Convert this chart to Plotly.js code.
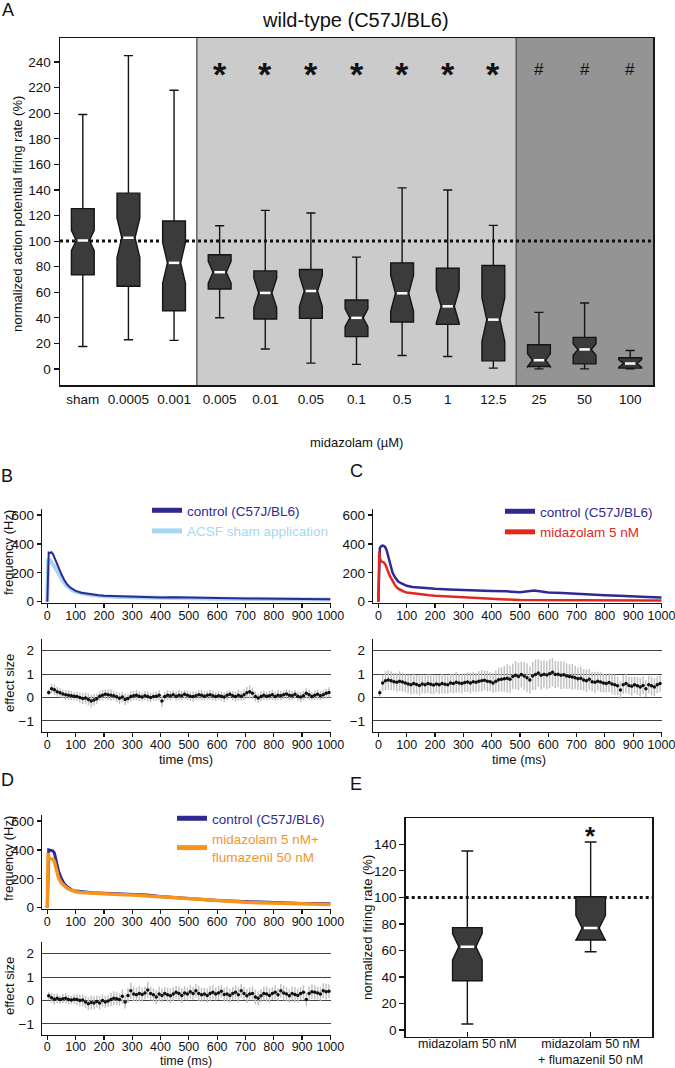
<!DOCTYPE html>
<html><head><meta charset="utf-8">
<script src="https://cdn.plot.ly/plotly-3.0.1.min.js"></script>
<style>html,body{margin:0;padding:0;background:#fff}#chart{width:675px;height:1068px}</style>
</head><body><div id="chart"></div>
<script>
// ---------- Panel A data ----------
const doseLabels = ['sham','0.0005','0.001','0.005','0.01','0.05','0.1','0.5','1','12.5','25','50','100'];
const doseGroup  = ['ctrl','ctrl','ctrl','sig','sig','sig','sig','sig','sig','sig','high','high','high'];
const doseUpper  = [199, 245, 218, 112, 124, 122, 87.5, 141.6, 140, 112.3, 44.3, 51.6, 14.5];
const doseQ3     = [125.4, 137.5, 115.7, 89.3, 76.7, 77.8, 54, 83, 78.8, 80.9, 19, 24.7, 8.8];
const doseMedian = [100.5, 102.6, 83, 75.7, 59.5, 61, 40, 59.2, 49, 38.6, 6.9, 15.3, 4.3];
const doseQ1     = [73.6, 64.7, 45.6, 62.6, 39.1, 39.6, 25.3, 36.7, 34.9, 6.4, 2, 4, 0.7];
const doseLower  = [17.6, 22.9, 22.4, 40.1, 15.6, 4.6, 3.6, 10.6, 9.8, 0.7, 0.1, 0.1, 0.2];
const doseNotch  = [8, 15.5, 16, 8.5, 11.5, 12, 7, 14, 13, 17, 5, 4.5, 3];
const doseMarks  = ['','','','*','*','*','*','*','*','*','#','#','#'];
const refLevel = 100;

// ---------- Panels B, C, D frequency traces ----------
const tFreq = [0, 3, 5, 10, 15, 20, 25, 30, 35, 40, 50, 60, 70, 80, 90, 100, 120, 140, 160, 180, 200, 250, 300, 350, 400, 450, 500, 550, 600, 650, 700, 750, 800, 850, 900, 950, 1000];
const freqCtrlB = [0, 320, 340, 338, 342, 330, 305, 285, 260, 235, 190, 150, 120, 100, 85, 75, 62, 55, 50, 45, 42, 38, 36, 32, 30, 31, 28, 27, 26, 24, 23, 22, 22, 20, 21, 19, 18];
const freqShamB = [0, 295, 290, 285, 275, 262, 245, 228, 210, 192, 160, 130, 108, 90, 78, 68, 57, 52, 47, 42, 38, 33, 30, 28, 26, 25, 24, 22, 21, 20, 20, 19, 18, 17, 17, 16, 15];
const freqCtrlC = [0, 330, 370, 385, 388, 385, 375, 350, 310, 260, 200, 165, 140, 128, 118, 110, 102, 98, 95, 93, 90, 85, 80, 78, 74, 72, 66, 78, 64, 60, 54, 50, 45, 42, 36, 33, 30];
const freqMidaC = [0, 345, 300, 280, 275, 270, 255, 235, 205, 180, 140, 110, 90, 78, 70, 64, 58, 52, 48, 45, 42, 36, 30, 25, 20, 16, 12, 11, 10, 10, 10, 9, 9, 8, 8, 8, 8];
const freqCtrlD = [0, 395, 400, 398, 395, 392, 380, 340, 290, 250, 200, 165, 145, 130, 120, 115, 110, 106, 104, 102, 100, 96, 94, 88, 78, 70, 62, 56, 50, 46, 42, 38, 35, 33, 30, 30, 28];
const freqFlumD = [0, 380, 345, 340, 338, 335, 320, 280, 240, 205, 170, 150, 135, 125, 115, 110, 106, 103, 100, 98, 96, 92, 88, 82, 74, 66, 58, 52, 46, 42, 38, 34, 31, 28, 26, 24, 22];

// ---------- Effect sizes ----------
const tEff = [5,15,25,35,45,55,65,75,85,95,105,115,125,135,145,155,165,175,185,195,205,215,225,235,245,255,265,275,285,295,305,315,325,335,345,355,365,375,385,395,405,415,425,435,445,455,465,475,485,495,505,515,525,535,545,555,565,575,585,595,605,615,625,635,645,655,665,675,685,695,705,715,725,735,745,755,765,775,785,795,805,815,825,835,845,855,865,875,885,895,905,915,925,935,945,955,965,975,985,995];
const effB = [0.22,0.38,0.33,0.25,0.2,0.15,0.12,0.1,0.08,0.06,
 0.05,0.0,-0.04,-0.02,-0.08,-0.15,-0.1,-0.05,0.06,0.1,
 0.14,0.12,0.1,0.08,0.03,-0.03,0.02,-0.08,-0.04,0.05,
 0.08,0.1,0.06,0.02,0.08,0.05,0.0,0.04,0.06,0.1,
 -0.15,0.05,0.1,0.08,0.12,0.06,0.1,0.08,0.14,0.1,
 0.06,0.04,0.08,0.12,0.1,0.06,0.1,0.12,0.08,0.04,
 0.08,0.06,0.02,0.1,0.14,0.08,0.04,0.1,0.06,0.12,
 0.2,0.25,0.18,0.05,-0.02,0.05,0.1,0.06,0.08,0.12,
 0.05,0.1,0.08,0.12,0.15,0.1,0.08,0.14,0.06,0.02,
 0.08,0.18,0.12,0.05,0.1,0.14,0.08,0.12,0.18,0.22];
const errB = [0.12,0.2,0.22,0.2,0.2,0.18,0.2,0.22,0.2,0.18,
 0.2,0.22,0.24,0.25,0.26,0.28,0.25,0.22,0.2,0.22,
 0.2,0.22,0.24,0.2,0.22,0.25,0.22,0.24,0.2,0.22,
 0.2,0.22,0.2,0.18,0.2,0.22,0.2,0.18,0.2,0.22,
 0.25,0.2,0.22,0.2,0.18,0.2,0.22,0.2,0.18,0.2,
 0.2,0.22,0.18,0.2,0.22,0.2,0.18,0.2,0.22,0.2,
 0.18,0.2,0.22,0.2,0.18,0.2,0.22,0.24,0.2,0.22,
 0.25,0.28,0.24,0.22,0.2,0.22,0.2,0.18,0.2,0.22,
 0.2,0.22,0.2,0.18,0.2,0.22,0.2,0.18,0.2,0.22,
 0.2,0.22,0.2,0.18,0.2,0.22,0.2,0.18,0.2,0.22];
const effC = [0.2,0.62,0.72,0.75,0.72,0.68,0.65,0.7,0.66,0.62,
 0.58,0.55,0.6,0.56,0.52,0.58,0.55,0.6,0.57,0.54,
 0.58,0.55,0.6,0.57,0.55,0.62,0.6,0.65,0.62,0.6,
 0.64,0.66,0.62,0.68,0.65,0.7,0.72,0.74,0.7,0.68,
 0.62,0.7,0.76,0.78,0.8,0.82,0.78,0.9,0.95,0.9,
 0.98,0.92,0.85,0.75,0.92,0.98,1.05,0.95,1.0,0.96,
 1.02,1.08,0.98,1.0,0.95,0.97,0.92,0.9,0.88,0.85,
 0.8,0.82,0.75,0.72,0.78,0.68,0.65,0.7,0.66,0.62,
 0.6,0.64,0.58,0.55,0.5,0.32,0.55,0.6,0.52,0.48,
 0.55,0.5,0.45,0.52,0.38,0.55,0.5,0.45,0.55,0.6];
const errC = [0.15,0.35,0.4,0.42,0.4,0.38,0.4,0.42,0.4,0.38,
 0.4,0.42,0.44,0.4,0.42,0.4,0.38,0.4,0.42,0.4,
 0.38,0.4,0.42,0.4,0.38,0.4,0.42,0.44,0.4,0.42,
 0.4,0.42,0.45,0.42,0.4,0.44,0.46,0.42,0.44,0.4,
 0.42,0.46,0.5,0.52,0.55,0.6,0.58,0.55,0.6,0.58,
 0.55,0.6,0.62,0.58,0.6,0.65,0.6,0.62,0.58,0.6,
 0.62,0.6,0.58,0.55,0.6,0.58,0.55,0.52,0.55,0.5,
 0.48,0.5,0.46,0.48,0.45,0.42,0.44,0.4,0.42,0.4,
 0.38,0.4,0.42,0.44,0.4,0.38,0.4,0.42,0.38,0.4,
 0.36,0.38,0.4,0.38,0.36,0.38,0.4,0.38,0.36,0.35];
const effD = [0.2,0.12,0.06,0.1,0.04,0.08,0.1,0.04,0.02,0.06,
 0.04,0.0,0.02,-0.06,-0.14,-0.08,-0.1,-0.04,-0.1,0.0,
 -0.06,-0.02,0.04,0.1,0.08,0.04,0.18,-0.06,0.22,0.42,
 0.28,0.25,0.3,0.26,0.32,0.45,0.3,0.25,0.15,0.28,
 0.22,0.3,0.25,0.2,0.28,0.35,0.3,0.22,0.32,0.28,
 0.38,0.3,0.42,0.3,0.25,0.28,0.22,0.3,0.35,0.28,
 0.32,0.4,0.26,0.28,0.22,0.3,0.35,0.25,0.42,0.3,
 0.2,0.28,0.3,0.15,0.1,0.2,0.3,0.28,0.22,0.3,
 0.35,0.25,0.42,0.32,0.28,0.2,0.3,0.26,0.22,0.3,
 0.35,0.05,0.3,0.38,0.35,0.32,0.28,0.42,0.38,0.4];
const errD = [0.15,0.2,0.22,0.2,0.18,0.2,0.22,0.2,0.18,0.2,
 0.22,0.24,0.25,0.26,0.28,0.3,0.28,0.26,0.28,0.26,
 0.25,0.26,0.28,0.3,0.28,0.26,0.3,0.28,0.32,0.35,
 0.32,0.3,0.32,0.3,0.28,0.35,0.3,0.28,0.3,0.32,
 0.3,0.28,0.3,0.32,0.3,0.28,0.3,0.32,0.3,0.28,
 0.3,0.28,0.3,0.32,0.3,0.28,0.3,0.32,0.3,0.28,
 0.3,0.28,0.3,0.32,0.3,0.28,0.3,0.32,0.3,0.28,
 0.3,0.28,0.3,0.32,0.3,0.28,0.3,0.32,0.3,0.28,
 0.3,0.28,0.3,0.32,0.3,0.28,0.3,0.32,0.3,0.28,
 0.3,0.28,0.3,0.32,0.3,0.28,0.3,0.32,0.34,0.3];

// ---------- Panel E data ----------
const eLabels = ['midazolam 50 nM', 'midazolam 50 nM<br>+ flumazenil 50 nM'];
const eUpper = [135, 141.7];
const eQ3 = [77.2, 100.5];
const eMedian = [62.8, 76.9];
const eQ1 = [37.2, 67.9];
const eLower = [4.6, 59];
const eNotch = [10, 9.5];
const eMarks = ['', '*'];

// ---------- styling ----------
const FONT = 'Liberation Sans, Arial, Helvetica, sans-serif';
const W = 675, H = 1068;
const px = v => v / W;
const py = v => 1 - v / H;
const C_CTRL = '#2f2a93', C_SHAM = '#a7d7ee', C_MIDA = '#e3271d', C_FLUM = '#f7941d';
const BOXFILL = '#3b3b3b', BOXLINE = '#151515';
const NOTCHW = 0.21;

const idxA = doseLabels.map((_, i) => i);
const idxE = eLabels.map((_, i) => i);

function medianSegments(xs, meds, boxW) {
  const hw = boxW / 2 * (1 - 2 * NOTCHW) * 0.8;
  const X = [], Y = [];
  xs.forEach((x, i) => { X.push(x - hw, x + hw, null); Y.push(meds[i], meds[i], null); });
  return {X, Y};
}

const traces = [];
// Panel A boxes
const boxWA = 0.5;
traces.push({
  type: 'box', orientation: 'v', x: idxA, q1: doseQ1, median: doseMedian, q3: doseQ3,
  lowerfence: doseLower, upperfence: doseUpper, notchspan: doseNotch, notched: true,
  notchwidth: NOTCHW, width: boxWA, whiskerwidth: 0.4, boxpoints: false,
  fillcolor: BOXFILL, line: {color: BOXLINE, width: 1.4}, hoverinfo: 'skip',
  showlegend: false, xaxis: 'x', yaxis: 'y'
});
const mA = medianSegments(idxA, doseMedian, boxWA);
traces.push({type: 'scatter', mode: 'lines', x: mA.X, y: mA.Y, line: {color: '#fff', width: 2.5},
  hoverinfo: 'skip', showlegend: false, xaxis: 'x', yaxis: 'y'});

// Panel E boxes
const boxWE = 0.24;
traces.push({
  type: 'box', orientation: 'v', x: idxE, q1: eQ1, median: eMedian, q3: eQ3,
  lowerfence: eLower, upperfence: eUpper, notchspan: eNotch, notched: true,
  notchwidth: NOTCHW, width: boxWE, whiskerwidth: 0.4, boxpoints: false,
  fillcolor: BOXFILL, line: {color: BOXLINE, width: 1.4}, hoverinfo: 'skip',
  showlegend: false, xaxis: 'x8', yaxis: 'y8'
});
const mE = medianSegments(idxE, eMedian, boxWE);
traces.push({type: 'scatter', mode: 'lines', x: mE.X, y: mE.Y, line: {color: '#fff', width: 2.5},
  hoverinfo: 'skip', showlegend: false, xaxis: 'x8', yaxis: 'y8'});

// frequency line traces
function lineTrace(y, color, w, xa, ya) {
  return {type: 'scatter', mode: 'lines', x: tFreq, y: y, line: {color: color, width: w},
    hoverinfo: 'skip', showlegend: false, xaxis: xa, yaxis: ya};
}
function legendKey(name, color, w, xa, ya, leg) {
  return {type: 'scatter', mode: 'lines', x: [null], y: [null], name: '<span style="color:' + color + '">' + name + '</span>',
    line: {color: color, width: w}, hoverinfo: 'skip', showlegend: true, xaxis: xa, yaxis: ya, legend: leg};
}
traces.push(lineTrace(freqShamB, C_SHAM, 4, 'x2', 'y2'));
traces.push(lineTrace(freqCtrlB, C_CTRL, 2, 'x2', 'y2'));
traces.push(legendKey('control (C57J/BL6)', C_CTRL, 5, 'x2', 'y2', 'legend'));
traces.push(legendKey('ACSF sham application', C_SHAM, 5, 'x2', 'y2', 'legend'));

traces.push(lineTrace(freqCtrlC, C_CTRL, 2.5, 'x4', 'y4'));
traces.push(lineTrace(freqMidaC, C_MIDA, 2.5, 'x4', 'y4'));
traces.push(legendKey('control (C57J/BL6)', C_CTRL, 5, 'x4', 'y4', 'legend2'));
traces.push(legendKey('midazolam 5 nM', C_MIDA, 5, 'x4', 'y4', 'legend2'));

traces.push(lineTrace(freqCtrlD, C_CTRL, 3, 'x6', 'y6'));
traces.push(lineTrace(freqFlumD, C_FLUM, 3.5, 'x6', 'y6'));
traces.push(legendKey('control (C57J/BL6)', C_CTRL, 5, 'x6', 'y6', 'legend3'));
traces.push(legendKey('midazolam 5 nM+<br>flumazenil 50 nM', C_FLUM, 5, 'x6', 'y6', 'legend3'));

// effect size traces
function effTrace(y, err, xa, ya) {
  return {type: 'scatter', mode: 'markers', x: tEff, y: y,
    marker: {color: '#111', size: 3.5},
    error_y: {type: 'data', array: err, visible: true, color: '#c2c2c2', thickness: 1.5, width: 0},
    hoverinfo: 'skip', showlegend: false, xaxis: xa, yaxis: ya};
}
traces.push(effTrace(effB, errB, 'x3', 'y3'));
traces.push(effTrace(effC, errC, 'x5', 'y5'));
traces.push(effTrace(effD, errD, 'x7', 'y7'));

// ---------- axes ----------
const AXC = '#151515';
const xTime = [-18, 1003];
const domBX = [px(42.2), px(331.2)];
const domCX = [px(373.3), px(662.3)];
const domFreqTop = [py(602.9), py(509.2)];
const domEffTop = [py(731.7), py(639.3)];
const domFreqBot = [py(908.9), py(815.2)];
const domEffBot = [py(1034.7), py(942.3)];

function timeX(dom, anchor, standoff) {
  return {domain: dom, anchor: anchor, range: xTime, tick0: 0, dtick: 100, ticks: 'outside', ticklen: 4,
    tickwidth: 1.2, tickcolor: AXC, showline: true, linecolor: AXC, linewidth: 1.5, showgrid: false,
    zeroline: false, ticklabelstandoff: standoff, ticklabeloverflow: 'allow',
    tickfont: {size: 12.5, color: '#111'}, fixedrange: true};
}
function freqY(dom, anchor) {
  return {domain: dom, anchor: anchor, range: [-8, 640], tickvals: [0, 200, 400, 600], ticks: 'outside',
    ticklen: 4, tickwidth: 1.2, tickcolor: AXC, showline: true, linecolor: AXC, linewidth: 1.5,
    showgrid: false, zeroline: false, tickfont: {size: 13.5, color: '#111'}, fixedrange: true};
}
function effY(dom, anchor) {
  return {domain: dom, anchor: anchor, range: [-1.46, 2.49], tickvals: [-1, 0, 1, 2], ticks: '',
    ticklabelstandoff: 4, showline: true, linecolor: AXC, linewidth: 1.5, showgrid: true,
    gridcolor: '#444', gridwidth: 1.1, zeroline: false, tickfont: {size: 13.5, color: '#111'}, fixedrange: true};
}

// ---------- shapes ----------
const shapes = [];
const groupOrder = ['sig', 'high'];
const groupFill = {sig: '#cbcbcc', high: '#949494'};
groupOrder.forEach(g => {
  const first = doseGroup.indexOf(g), last = doseGroup.lastIndexOf(g);
  shapes.push({type: 'rect', xref: 'x', yref: 'y domain', x0: first - 0.5, x1: last + 0.5, y0: 0, y1: 1,
    fillcolor: groupFill[g], line: {width: 0}, layer: 'below'});
  shapes.push({type: 'line', xref: 'x', yref: 'y domain', x0: first - 0.5, x1: first - 0.5, y0: 0, y1: 1,
    line: {color: '#444', width: 1.2}, layer: 'below'});
});
shapes.push({type: 'line', xref: 'x domain', yref: 'y', x0: 0, x1: 1, y0: refLevel, y1: refLevel,
  line: {color: '#111', width: 3, dash: 'dot'}, layer: 'below'});
shapes.push({type: 'line', xref: 'x8 domain', yref: 'y8', x0: 0, x1: 1, y0: refLevel, y1: refLevel,
  line: {color: '#111', width: 3, dash: 'dot'}, layer: 'below'});

// ---------- annotations ----------
const ann = [];
function txt(text, x, y, size, opts) {
  ann.push(Object.assign({text: text, xref: 'paper', yref: 'paper', x: px(x), y: py(y), xanchor: 'center',
    yanchor: 'middle', showarrow: false, font: {size: size, color: '#111', family: FONT}}, opts || {}));
}
txt('A', 8, 10, 18);
txt('wild-type (C57J/BL6)', 355, 20, 20);
txt('normalized action potential firing rate (%)', 18, 214, 13, {textangle: -90});
txt('midazolam (µM)', 356, 443, 13);
txt('B', 7, 476, 18);
txt('C', 356, 471, 18);
txt('D', 7, 780, 18);
txt('E', 356, 784, 18);
txt('frequency (Hz)', 8, 553, 13, {textangle: -90});
txt('effect size', 9, 683, 13, {textangle: -90});
txt('frequency (Hz)', 8, 859, 13, {textangle: -90});
txt('effect size', 9, 986, 13, {textangle: -90});
txt('time (ms)', 186, 759, 13);
txt('time (ms)', 519, 759, 13);
txt('time (ms)', 186, 1060.5, 12.5);
txt('normalized firing rate (%)', 367, 928, 13, {textangle: -90});

const markLevelA = 231, markLevelE = 146;
doseMarks.forEach((m, i) => {
  if (!m) return;
  ann.push({text: m, xref: 'x', yref: 'y', x: i, y: m === '*' ? markLevelA : markLevelA + 3, showarrow: false,
    xanchor: 'center', yanchor: 'middle',
    font: {size: m === '*' ? 34 : 17, color: '#111', family: FONT, weight: m === '*' ? 'bold' : 'normal'}});
});
eMarks.forEach((m, i) => {
  if (!m) return;
  ann.push({text: m, xref: 'x8', yref: 'y8', x: i, y: markLevelE, showarrow: false,
    xanchor: 'center', yanchor: 'middle', font: {size: 26, color: '#111', family: FONT, weight: 'bold'}});
});

const legendBase = {xanchor: 'left', yanchor: 'top', bgcolor: 'rgba(0,0,0,0)', borderwidth: 0,
  font: {size: 13.5, family: FONT}, itemwidth: 30, tracegroupgap: 0, itemclick: false, itemdoubleclick: false};

const layout = {
  width: W, height: H, margin: {l: 0, r: 0, t: 0, b: 0}, paper_bgcolor: '#fff', plot_bgcolor: 'rgba(0,0,0,0)',
  font: {family: FONT, color: '#111'}, showlegend: true,
  legend: Object.assign({}, legendBase, {x: px(147), y: py(495)}),
  legend2: Object.assign({}, legendBase, {x: px(500), y: py(496)}),
  legend3: Object.assign({}, legendBase, {x: px(172), y: py(803)}),
  xaxis: {domain: [px(60), px(653)], anchor: 'y', range: [-0.5, 12.5], tickvals: idxA, ticktext: doseLabels,
    ticks: '', ticklabelstandoff: 1, showline: true, mirror: true, linecolor: AXC, linewidth: 1.5,
    showgrid: false, zeroline: false, tickfont: {size: 13.5, color: '#111'}, fixedrange: true},
  yaxis: {domain: [py(385), py(38)], anchor: 'x', range: [-12.5, 258.8], tick0: 0, dtick: 20,
    ticks: 'outside', ticklen: 5, tickwidth: 1.2, tickcolor: AXC, showline: true, mirror: true,
    linecolor: AXC, linewidth: 1.5, showgrid: false, zeroline: false, tickfont: {size: 13.5, color: '#111'}, fixedrange: true},
  xaxis2: timeX(domBX, 'y2', -3), yaxis2: freqY(domFreqTop, 'x2'),
  xaxis3: timeX(domBX, 'y3', -3), yaxis3: effY(domEffTop, 'x3'),
  xaxis4: timeX(domCX, 'y4', -3), yaxis4: freqY(domFreqTop, 'x4'),
  xaxis5: timeX(domCX, 'y5', -3), yaxis5: effY(domEffTop, 'x5'),
  xaxis6: timeX(domBX, 'y6', -3), yaxis6: freqY(domFreqBot, 'x6'),
  xaxis7: timeX(domBX, 'y7', -4), yaxis7: effY(domEffBot, 'x7'),
  xaxis8: {domain: [px(405.7), px(652.3)], anchor: 'y8', range: [-0.5, 1.5], tickvals: idxE, ticktext: eLabels,
    ticks: 'inside', ticklen: 5, tickwidth: 1.2, tickcolor: AXC, showline: true, mirror: true, linecolor: AXC,
    linewidth: 1.5, showgrid: false, zeroline: false, ticklabelstandoff: -5,
    tickfont: {size: 12.5, color: '#111'}, fixedrange: true},
  yaxis8: {domain: [py(1036.7), py(818.3)], anchor: 'x8', range: [-5, 159.6], tick0: 0, dtick: 20,
    ticks: 'outside', ticklen: 5, tickwidth: 1.2, tickcolor: AXC, showline: true, mirror: true, linecolor: AXC,
    linewidth: 1.5, showgrid: false, zeroline: false, tickfont: {size: 13.5, color: '#111'}, fixedrange: true},
  shapes: shapes, annotations: ann
};

Plotly.newPlot('chart', traces, layout, {staticPlot: true, displayModeBar: false});
</script></body></html>
